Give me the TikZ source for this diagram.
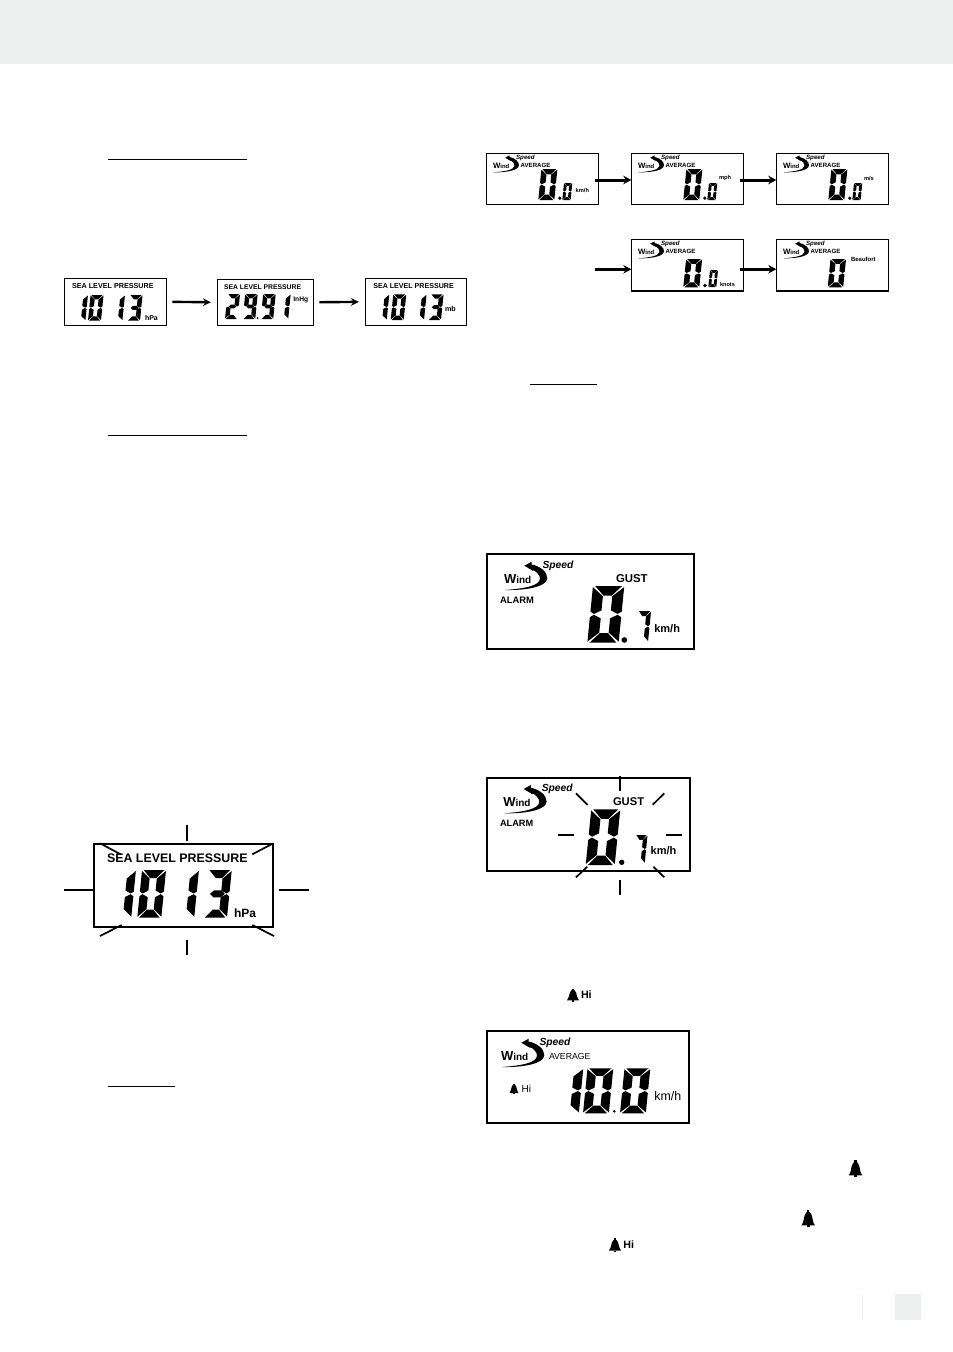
\documentclass[tikz,border=0pt]{standalone}
\usepackage{fontspec}
\setmainfont{Liberation Sans}
\usetikzlibrary{arrows.meta}
\definecolor{pagegray}{HTML}{EDEEEE}
\tikzset{
  thinlcd/.style={draw,line width=1.2pt,inner sep=0pt,outer sep=0pt},
  widelcd/.style={draw,line width=2.2pt,inner sep=0pt,outer sep=0pt},
  lcdlabel/.style={inner sep=0pt,outer sep=0pt,anchor=west},
  unitarrow/.style={-{Stealth[length=8pt,width=7.5pt]},line width=2.4pt},
  windarrow/.style={-{Stealth[length=8pt,width=8.5pt]},line width=3pt},
  ray/.style={line width=1.7pt},
  rule/.style={line width=1pt}
}
% segments of one digit, 10 wide and 20 high
\newcommand{\sega}{(.7,20) -- (9.3,20) -- (6.3,16.6) -- (3.7,16.6) -- cycle}
\newcommand{\segb}{(10,19.6) -- (10,11) -- (8.8,10.15) -- (6.5,11.4) -- (6.5,16.4) -- cycle}
\newcommand{\segc}{(10,.4) -- (10,9) -- (8.8,9.85) -- (6.5,8.6) -- (6.5,3.6) -- cycle}
\newcommand{\segd}{(.7,0) -- (9.3,0) -- (6.3,3.4) -- (3.7,3.4) -- cycle}
\newcommand{\sege}{(0,.4) -- (0,9) -- (1.2,9.85) -- (3.5,8.6) -- (3.5,3.6) -- cycle}
\newcommand{\segf}{(0,19.6) -- (0,11) -- (1.2,10.15) -- (3.5,11.4) -- (3.5,16.4) -- cycle}
\newcommand{\segg}{(1.9,10) -- (3.5,11.5) -- (6.5,11.5) -- (8.1,10) -- (6.5,8.5) -- (3.5,8.5) -- cycle}
\expandafter\def\csname dig0\endcsname{a,b,c,d,e,f}
\expandafter\def\csname dig1\endcsname{b,c}
\expandafter\def\csname dig2\endcsname{a,b,g,e,d}
\expandafter\def\csname dig3\endcsname{a,b,g,c,d}
\expandafter\def\csname dig7\endcsname{a,b,c}
\expandafter\def\csname dig9\endcsname{a,b,c,d,f,g}
% x, bottom, width, height, digit
\newcommand{\lcddigit}[5]{
  \begin{scope}[shift={(#1,#2)},xscale=#3/10,yscale=-#4/20,xslant=-0.05*#4/#3]
    \edef\seglist{\csname dig#5\endcsname}
    \foreach \s in \seglist {\fill \csname seg\s\endcsname;}
  \end{scope}
}
\newcommand{\lcdtext}[5]{\node[lcdlabel] (#1) at (#2,#3) {\fontsize{#4}{#4}\selectfont\bfseries #5};}
\newcommand{\windlogo}[4]{
  \begin{scope}[shift={(#2,#3)},scale=#4]
    \fill (20.3,-13.3) -- (27.7,-17.3) -- (27.5,-14.5) .. controls (36,-13) and (43.5,-7) .. (43.3,-.7)
      .. controls (43,7) and (25,11.5) .. (1,11) .. controls (20,9.5) and (36,7) .. (36,-.7)
      .. controls (36,-4) and (32,-7.5) .. (29.3,-9) -- (29.3,-8) -- cycle;
    \node[lcdlabel,transform shape] (#1wind) at (0,0) {\bfseries\fontsize{13}{13}\selectfont W\fontsize{10}{10}\selectfont ind};
    \node[lcdlabel,transform shape] (#1speed) at (38.5,-13.3) {\fontsize{10.3}{10.3}\selectfont\bfseries\itshape Speed};
  \end{scope}
}
% centre x, bottom, width, height
\newcommand{\bellicon}[4]{
  \begin{scope}[shift={(#1,#2)},xscale=#3,yscale=#4]
    \fill (-.5,-.08) .. controls (-.32,-.25) and (-.34,-.5) .. (-.26,-.68)
      .. controls (-.2,-.86) and (-.08,-.9) .. (0,-.9)
      .. controls (.08,-.9) and (.2,-.86) .. (.26,-.68)
      .. controls (.34,-.5) and (.32,-.25) .. (.5,-.08) -- cycle;
    \fill (-.08,-.9) rectangle (.08,-1);
    \fill (-.12,-.08) rectangle (.12,0);
  \end{scope}
}
\begin{document}
\begin{tikzpicture}[x=1pt,y=-1pt]
  \useasboundingbox (0,0) rectangle (953,1352);
  \fill[pagegray] (0,0) rectangle (953,64);
  \fill[pagegray] (895,1294) rectangle (921,1320);
  \draw[pagegray,line width=.8pt] (862,1294) -- (862,1320);
  \draw[rule] (108,159.3) -- (247,159.3);
  \draw[rule] (108,435) -- (247,435);
  \draw[rule] (108,1086) -- (175,1086);
  \draw[rule] (530,384) -- (597,384);

  % sea level pressure, three units
  \node[thinlcd,minimum width=102.4pt,minimum height=47pt] (seahpa) at (115.5,301.8) {};
  \node[thinlcd,minimum width=96.4pt,minimum height=46pt] (seainhg) at (265.5,302.3) {};
  \node[thinlcd,minimum width=101.4pt,minimum height=47pt] (seamb) at (416,301.8) {};
  \lcdtext{seahpatext}{72}{285.7}{7.2}{SEA LEVEL PRESSURE}
  \lcdtext{seainhgtext}{224}{287}{6.8}{SEA LEVEL PRESSURE}
  \lcdtext{seambtext}{373.3}{285.7}{7.1}{SEA LEVEL PRESSURE}
  \lcddigit{72.4}{320.7}{13}{25.7}{1}
  \lcddigit{88}{320.7}{13}{25.7}{0}
  \lcddigit{109.4}{320.7}{13}{25.7}{1}
  \lcddigit{127}{320.7}{13}{25.7}{3}
  \lcdtext{hpaunit}{145}{318.3}{7}{hPa}
  \lcddigit{225}{319}{12.5}{25}{2}
  \lcddigit{242.7}{319}{12.5}{25}{9}
  \fill (257.6,318) circle (1.1);
  \lcddigit{260.7}{319}{12.5}{25}{9}
  \lcddigit{275.7}{319}{12.5}{25}{1}
  \lcdtext{inhgunit}{293.3}{300}{6.7}{InHg}
  \lcddigit{373.7}{320}{13}{25.7}{1}
  \lcddigit{390.7}{320}{13}{25.7}{0}
  \lcddigit{411}{320}{13}{25.7}{1}
  \lcddigit{428}{320}{13}{25.7}{3}
  \lcdtext{mbunit}{445}{309}{7.2}{mb}
  \path[unitarrow,shorten <=5.6pt,shorten >=6.3pt]
    (seahpa.east) edge (seainhg.west)
    (seainhg.east) edge (seamb.west);

  % wind speed, five units
  \node[thinlcd,minimum width=112pt,minimum height=51.4pt] (windkmh) at (542.7,179) {};
  \node[thinlcd,minimum width=112pt,minimum height=51.4pt] (windmph) at (687.3,179) {};
  \node[thinlcd,minimum width=112pt,minimum height=51.4pt] (windms) at (832.3,179) {};
  \node[thinlcd,minimum width=112pt,minimum height=51.7pt] (windknots) at (687.3,265.2) {};
  \node[thinlcd,minimum width=112pt,minimum height=51.7pt] (windbft) at (832.3,265.2) {};
  \foreach \pn/\px/\py in {windkmh/493/165.7,windmph/638/165.7,windms/783/165.7,windknots/638/251.7,windbft/783/251.7} {
    \windlogo{\pn}{\px}{\py}{.6}
    \node[lcdlabel] (\pn avg) at (\px+27.7,\py) {\fontsize{6.1}{6.1}\selectfont\bfseries AVERAGE};
  }
  \lcddigit{538.3}{200}{16}{31}{0}
  \fill (559.8,198.2) circle (1.8);
  \lcddigit{562.3}{200}{8.3}{17}{0}
  \lcdtext{kmhunit}{575.7}{190}{5.7}{km/h}
  \lcddigit{683.3}{200}{16}{31}{0}
  \fill (704.8,198.2) circle (1.8);
  \lcddigit{707.3}{200}{8.3}{17}{0}
  \lcdtext{mphunit}{719}{178}{5.7}{mph}
  \lcddigit{828.3}{200}{16}{31}{0}
  \fill (849.8,198.2) circle (1.8);
  \lcddigit{852.3}{200}{8.3}{17}{0}
  \lcdtext{msunit}{864}{178}{5.7}{m/s}
  \lcddigit{683.3}{287.3}{16}{28.3}{0}
  \fill (705,285.5) circle (1.8);
  \lcddigit{708.3}{287}{8}{17}{0}
  \lcdtext{knotsunit}{720}{284}{5.6}{knots}
  \lcddigit{827.7}{287.3}{15.5}{28.3}{0}
  \lcdtext{bftunit}{851}{259.3}{6}{Beaufort}
  \coordinate (windfree) at (595,269.3);
  \coordinate (windknotsin) at (windfree -| windknots.west);
  \path[windarrow,shorten <=-3.7pt]
    ([yshift=-1pt]windkmh.east) edge ([yshift=-1pt]windmph.west)
    ([yshift=-1pt]windmph.east) edge ([yshift=-1pt]windms.west)
    ([yshift=-4pt]windknots.east) edge ([yshift=-4pt]windbft.west);
  \path[windarrow] (windfree) edge (windknotsin);

  % flashing sea level pressure
  \node[widelcd,minimum width=178.7pt,minimum height=82.4pt] (seaflash) at (183.4,885.5) {};
  \lcdtext{seaflashtext}{107}{858}{12.4}{SEA LEVEL PRESSURE}
  \lcddigit{107.2}{917.7}{24}{47.7}{1}
  \lcddigit{137.3}{917.7}{24}{47.7}{0}
  \lcddigit{170.2}{917.7}{24}{47.7}{1}
  \lcddigit{203}{917.7}{24}{47.7}{3}
  \lcdtext{seaflashunit}{234}{913}{12}{hPa}
  \foreach \xa/\ya/\xb/\yb in {187/825/187/841,187/940/187/955,64.3/890/92.7/890,279.3/890/309.3/890,
      100/843.3/120.7/854.3,252.3/854.3/273.3/843.3,100/936/121.7/925,252.3/925/274/936}
    \draw[ray] (\xa,\ya) -- (\xb,\yb);

  % gust alarm
  \node[widelcd,minimum width=206.7pt,minimum height=95.3pt] (gustlcd) at (590.7,601.7) {};
  \windlogo{gustlcd}{504}{579}{1}
  \lcdtext{gusttext}{616}{578.3}{11.4}{GUST}
  \lcdtext{alarmtext}{500}{600.7}{9.4}{ALARM}
  \lcddigit{587.3}{642.7}{31.3}{56.7}{0}
  \fill (624.3,640) circle (2.8);
  \lcddigit{635}{641.7}{13}{30.7}{7}
  \lcdtext{gustunit}{654.3}{628.3}{11}{km/h}

  % flashing gust alarm
  \node[widelcd,minimum width=202.7pt,minimum height=92.4pt] (gustflash) at (588.7,824.5) {};
  \windlogo{gustflash}{503.3}{802.3}{1}
  \lcdtext{flashgusttext}{613}{801.7}{11.2}{GUST}
  \lcdtext{flashalarmtext}{500}{823.3}{9.2}{ALARM}
  \lcddigit{585.7}{865}{29}{55.7}{0}
  \fill (621.7,862.3) circle (2.7);
  \lcddigit{632.7}{863.3}{12}{28.3}{7}
  \lcdtext{flashunit}{650.7}{851}{11}{km/h}
  \foreach \xa/\ya/\xb/\yb in {619.7/776/619.7/790.7,619.7/880/619.7/895,558.3/835/574.3/835,666/835/681.7/835,
      576/793.3/587.7/805,664.3/793.3/652.7/804.7,587.3/866.7/576/877.3,653.3/866.7/664.3/877.3}
    \draw[ray] (\xa,\ya) -- (\xb,\yb);

  % high alarm
  \bellicon{573}{1001.5}{12}{13}
  \lcdtext{hitext}{581}{995}{10.7}{Hi}
  \node[widelcd,minimum width=202.3pt,minimum height=92pt] (avglcd) at (587.8,1076.7) {};
  \windlogo{avglcd}{501}{1056}{1}
  \node[lcdlabel] (avgtext) at (549,1056.7) {\fontsize{8.7}{8.7}\selectfont AVERAGE};
  \bellicon{514}{1094}{9}{10.5}
  \node[lcdlabel] (avghitext) at (521.7,1089.3) {\fontsize{10}{10}\selectfont Hi};
  \lcddigit{553}{1113.3}{25.8}{45}{1}
  \lcddigit{583}{1113.3}{25.8}{45}{0}
  \fill (614.3,1111.3) circle (1.4);
  \lcddigit{620}{1113.3}{25.8}{45}{0}
  \node[lcdlabel] (avgunit) at (654.3,1095.7) {\fontsize{12.4}{12.4}\selectfont km/h};
  \bellicon{855.5}{1176.7}{13.6}{16.7}
  \bellicon{808.2}{1226.7}{13.6}{16.7}
  \bellicon{615}{1251.7}{12}{13.4}
  \lcdtext{lasthitext}{623.3}{1245}{10.7}{Hi}
\end{tikzpicture}
\end{document}
